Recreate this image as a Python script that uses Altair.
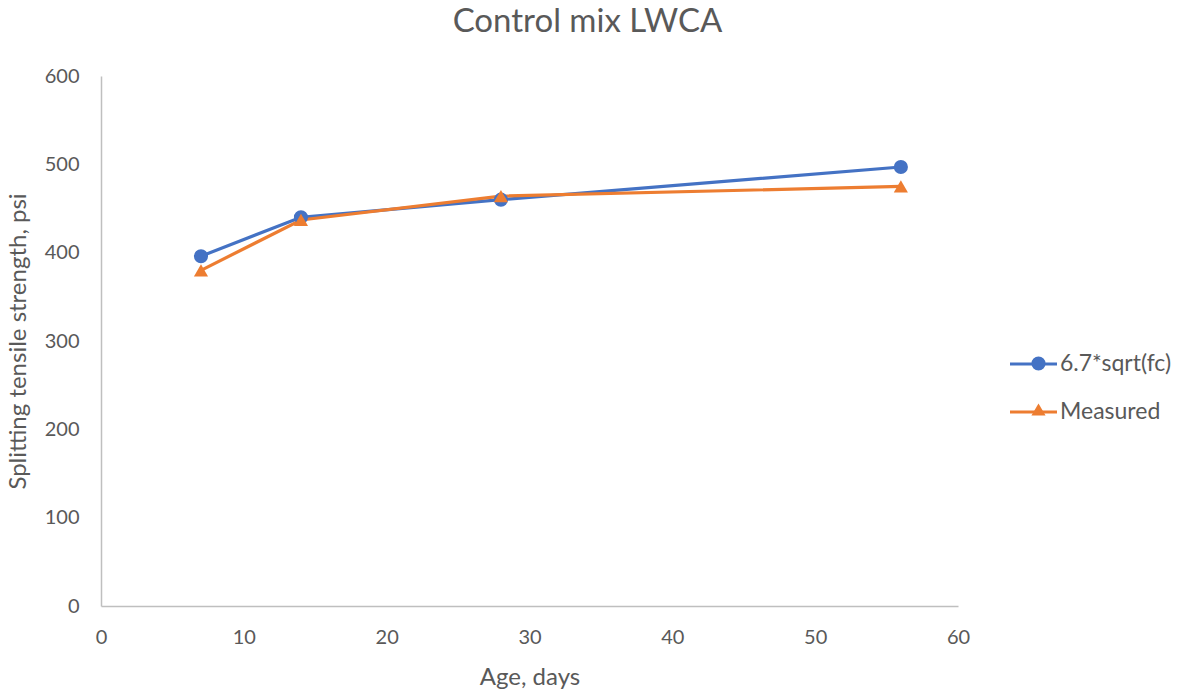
import altair as alt
import pandas as pd

ages = [7, 14, 28, 56]
series_names = ["6.7*sqrt(fc)", "Measured"]
predicted = [396, 440, 460, 497]
measured = [380, 437, 464, 475]
colors = ["#4472C4", "#ED7D31"]
shapes = ["circle", "triangle-up"]

rows = []
for a, v in zip(ages, predicted):
    rows.append({"age": a, "value": v, "series": series_names[0]})
for a, v in zip(ages, measured):
    rows.append({"age": a, "value": v, "series": series_names[1]})
df = pd.DataFrame(rows)
df["series_line"] = df["series"]

FONT = "Lato"
TXT = "#595959"

x = alt.X("age:Q", title="Age, days",
          scale=alt.Scale(domain=[0, 60], nice=False, zero=True),
          axis=alt.Axis(values=[0, 10, 20, 30, 40, 50, 60], grid=False, ticks=False,
                        labelFlush=False,
                        domainColor="#BFBFBF", domainWidth=1.5,
                        labelColor=TXT, labelFontSize=20, labelFont=FONT, labelPadding=21,
                        titleColor=TXT, titleFontSize=24, titleFont=FONT, titleFontWeight="normal",
                        titlePadding=18))
y = alt.Y("value:Q", title="Splitting tensile strength, psi",
          scale=alt.Scale(domain=[0, 600], nice=False),
          axis=alt.Axis(values=[0, 100, 200, 300, 400, 500, 600], grid=False, ticks=False,
                        labelFlush=False,
                        domainColor="#BFBFBF", domainWidth=1.5,
                        labelColor=TXT, labelFontSize=20, labelFont=FONT, labelPadding=22,
                        titleColor=TXT, titleFontSize=24, titleFont=FONT, titleFontWeight="normal",
                        titlePadding=14))

lines = alt.Chart(df).mark_line(strokeWidth=3.2).encode(
    x=x, y=y,
    color=alt.Color("series_line:N", scale=alt.Scale(domain=series_names, range=colors),
                    legend=alt.Legend(title=None, orient="none", legendX=907, legendY=262.5,
                                      padding=0, symbolType="stroke", symbolSize=2209,
                                      symbolStrokeWidth=3.2,
                                      labelFont=FONT, labelFontSize=23, labelColor=TXT,
                                      rowPadding=10, labelOffset=1)),
)

shape_legend = alt.Legend(title=None, orient="none", legendX=926, legendY=276, padding=0,
                          symbolSize=200, symbolOpacity=1, symbolStrokeWidth=0,
                          labelOpacity=0, labelFont=FONT, labelFontSize=23, rowPadding=22,
                          labelExpr="''")

points = alt.Chart(df).mark_point(filled=True, size=200, opacity=1).encode(
    x=x, y=y,
    fill=alt.Fill("series:N", scale=alt.Scale(range=colors), legend=shape_legend),
    shape=alt.Shape("series:N", scale=alt.Scale(range=shapes), legend=shape_legend),
)

chart = alt.layer(lines, points).properties(
    width=857, height=530,
    background="white",
    autosize=alt.AutoSizeParams(type="none"),
    padding={"left": 101, "top": 76, "right": 234, "bottom": 90},
    title=alt.TitleParams("Control mix LWCA", font=FONT, fontSize=33, fontWeight="normal",
                          color=TXT, anchor="middle", dx=58, offset=27),
).configure_view(strokeWidth=0, stroke="transparent")

chart.save("out.html", embed_options={"renderer": "svg", "actions": False})
